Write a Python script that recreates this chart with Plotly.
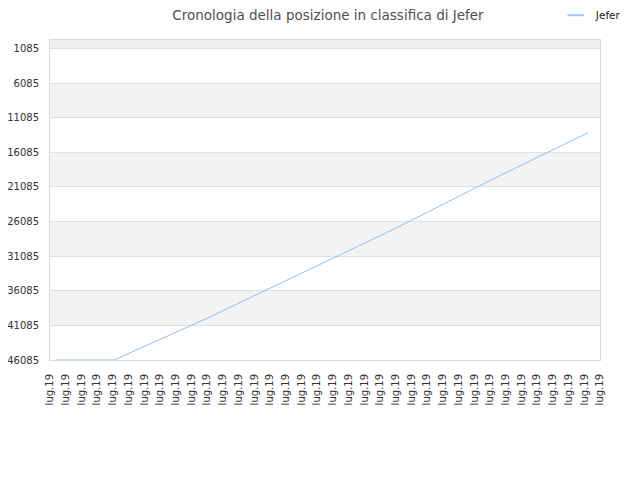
import plotly.graph_objects as go

# Posizione in classifica di Jefer (asse invertito: 1 = in alto)
x_pos = [0.38, 4.08, 10.0, 16.0, 22.0, 28.0, 34.24]
rank = [46085, 46085, 40050, 33600, 27050, 20150, 13245]

tick_vals = [1085, 6085, 11085, 16085, 21085, 26085, 31085, 36085, 41085, 46085]
tick_text = [str(v) for v in tick_vals]
x_ticks = list(range(36))
x_labels = ["lug.19"] * 36

LINE_COLOR = "#90c0f0"

fig = go.Figure()

fig.add_trace(go.Scatter(
    x=x_pos, y=rank,
    mode="lines",
    name="Jefer",
    line=dict(color=LINE_COLOR, width=1),
    showlegend=False,
))

# voce di legenda con trattino corto (come nell'originale)
fig.add_trace(go.Scatter(
    x=[None], y=[None],
    mode="markers",
    name="Jefer",
    marker=dict(symbol="line-ew-open", size=12, color="#a0c8f0",
                line=dict(color="#a0c8f0", width=2)),
))

# bande alternate di sfondo
shapes = [dict(type="rect", xref="paper", yref="y", x0=0, x1=1,
               y0=-150, y1=tick_vals[0], fillcolor="#eeeeee",
               line_width=0, layer="below")]
for i in range(1, len(tick_vals) - 1, 2):
    shapes.append(dict(type="rect", xref="paper", yref="y", x0=0, x1=1,
                       y0=tick_vals[i], y1=tick_vals[i + 1],
                       fillcolor="#f3f3f3", line_width=0, layer="below"))

# margini compensati per il margine di 8px del body della pagina
fig.update_layout(
    width=640, height=480,
    title=dict(text="Cronologia della posizione in classifica di Jefer",
               x=0.5, xanchor="center", y=0.985, yanchor="middle",
               font=dict(size=13.5, color="#505050")),
    font=dict(family="DejaVu Sans", color="#333333", size=10),
    paper_bgcolor="white", plot_bgcolor="white",
    margin=dict(l=42, r=48, t=32, b=128, autoexpand=False),
    showlegend=True,
    legend=dict(xref="container", yref="container",
                x=0.856, xanchor="left", y=0.985, yanchor="middle",
                font=dict(size=10.5, color="#222222"), bgcolor="rgba(0,0,0,0)"),
    shapes=shapes,
)

fig.update_xaxes(
    range=[0, 35], automargin=False,
    tickmode="array", tickvals=x_ticks, ticktext=x_labels,
    tickangle=-90, tickfont=dict(size=10, color="#333333"),
    ticklabelstandoff=9,
    showgrid=False, zeroline=False,
    showline=True, linecolor="#d8d8d8", linewidth=1, mirror=True,
)

fig.update_yaxes(
    range=[46085, -150], automargin=False,
    tickmode="array", tickvals=tick_vals, ticktext=tick_text,
    tickfont=dict(size=10, color="#333333"),
    ticklabelstandoff=8,
    showgrid=True, gridcolor="#e0e0e0", gridwidth=1,
    zeroline=False,
    showline=True, linecolor="#d8d8d8", linewidth=1, mirror=True,
)

fig.write_html("out.html")
